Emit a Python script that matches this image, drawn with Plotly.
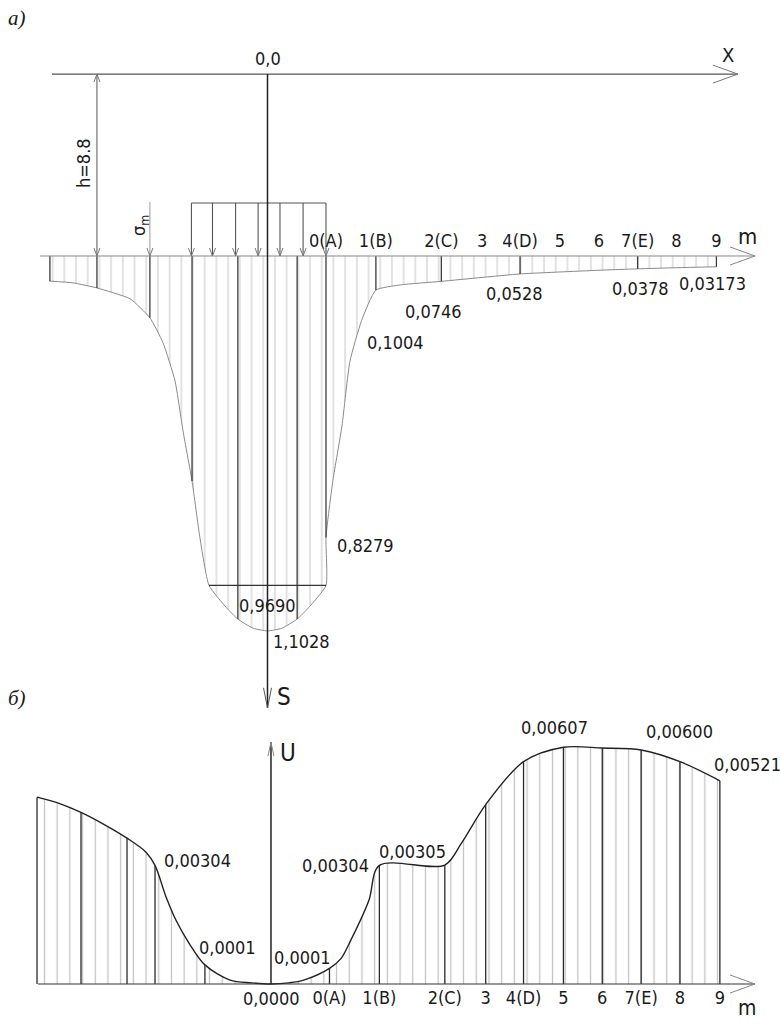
import plotly.graph_objects as go

# ---------------- data ----------------
# observation points along the surface, x in metres from the load axis
STATIONS = ["0(A)", "1(B)", "2(C)", "3", "4(D)", "5", "6", "7(E)", "8", "9"]
STATION_X = [2.86, 5.3, 8.5, 10.5, 12.35, 14.3, 16.2, 18.1, 20.0, 21.95]

# a) settlement diagram S(x)
S_X = [-10.64, -9.51, -8.34, -6.72, -5.75, -5.11, -4.52, -4.13, -3.69, -3.3,
       -2.86, -2.0, -1.45, -0.7, 0.0, 0.7, 1.45, 2.0, 2.86,
       2.86, 3.2, 3.64, 4.03, 4.6, 5.3, 6.5, 8.5, 10.5, 12.35, 14.3, 16.2,
       18.1, 20.0, 21.95]
S_VAL = [0.074, 0.079, 0.094, 0.126, 0.182, 0.255, 0.368, 0.515, 0.662, 0.83,
         0.969, 1.035, 1.068, 1.095, 1.1028, 1.095, 1.068, 1.035, 0.969,
         0.8279, 0.66, 0.50, 0.31, 0.19, 0.1004, 0.085, 0.0746, 0.063, 0.0528,
         0.047, 0.042, 0.0378, 0.0345, 0.03173]
S_PLATEAU = 0.969
S_PLATEAU_X = [-2.86, 2.86]
S_SECTIONS = [-10.64, -8.34, -5.75, -3.69, -1.45, 1.45, 2.86, 5.3, 8.5,
              12.35, 18.1, 21.95]

# uniform load under the foundation (arrow positions)
LOAD_X = [-3.72, -2.69, -1.56, -0.46, 0.61, 1.74, 2.86]
SIGMA_M_X = -5.75
H_DIM_X = -8.34

# b) horizontal displacement diagram U(x)
U_X = [-11.44, -10.3, -9.29, -8.26, -7.04, -6.11, -5.67, -5.13, -4.65, -4.01,
       -3.23, -2.0, -0.93, 0.0, 0.88, 1.6, 2.86, 3.42, 3.91, 4.79, 5.3,
       8.5, 9.3, 10.5, 12.35, 14.3, 16.2, 18.1, 20.0, 21.95]
U_VAL = [0.00479, 0.00462, 0.00440, 0.00412, 0.00374, 0.00338, 0.00304,
         0.00223, 0.00164, 0.00105, 0.00049, 0.0001, 0.00003, 0.0, 0.00003,
         0.0001, 0.00040, 0.00065, 0.00113, 0.00215, 0.00304,
         0.00305, 0.0036, 0.0046, 0.0057, 0.00607, 0.00605, 0.00600, 0.0057,
         0.00521]
U_SECTIONS = [-11.44, -9.29, -7.04, -5.67, -3.23, 2.86, 5.3, 8.5, 10.5, 12.35,
              14.3, 16.2, 18.1, 20.0, 21.95]

# ---------------- layout constants ----------------
W, H = 780, 1026
FONT = "DejaVu Sans Condensed, Liberation Sans Narrow, DejaVu Sans, sans-serif"
SERIF = "Liberation Serif, DejaVu Serif, serif"
X_RANGE_A = [-13.08, 25.06]
S_RANGE = [2.265, -0.753]
X_RANGE_B = [-13.25, 24.89]
U_RANGE = [-0.001077, 0.02523]
X_AXIS_LEVEL = -0.535      # level of the X axis above the ground in S units
LOAD_TOP = -0.156
S_AXIS_END = 1.329
U_AXIS_END = 0.0062
TXT = 18

S_LOOKUP = dict(zip(S_X, S_VAL))
U_LOOKUP = dict(zip(U_X, U_VAL))


def paper(px, py):
    return px / W, 1 - py / H


def fmt(v, d):
    return f"{v:.{d}f}".replace(".", ",")


def vlines(xs, y0s, y1s):
    xx, yy = [], []
    for x, a, b in zip(xs, y0s, y1s):
        xx += [x, x, None]
        yy += [a, b, None]
    return xx, yy


def line(fig, x, y, color, width, xa="x", ya="y"):
    fig.add_trace(go.Scatter(x=x, y=y, mode="lines", xaxis=xa, yaxis=ya,
                             line=dict(color=color, width=width),
                             hoverinfo="skip", showlegend=False))


fig = go.Figure()

# ---- panel a ----
fig.add_trace(go.Scatter(
    x=S_X, y=S_VAL, mode="lines", xaxis="x", yaxis="y",
    line=dict(color="#8a8a8a", width=1, shape="spline", smoothing=0.5),
    fill="tozeroy", fillcolor="white",
    fillpattern=dict(shape="|", size=11.7, solidity=0.1,
                     fgcolor="#9c9c9c", bgcolor="white"),
    hoverinfo="skip", showlegend=False))

sx, sy = vlines(S_SECTIONS, [0] * len(S_SECTIONS), [S_LOOKUP[x] for x in S_SECTIONS])
line(fig, sx, sy, "#3c3c3c", 1.3)
line(fig, S_PLATEAU_X, [S_PLATEAU] * 2, "#333", 1.2)

# load block
lx, ly = vlines(LOAD_X, [LOAD_TOP] * len(LOAD_X), [0] * len(LOAD_X))
line(fig, lx + [LOAD_X[0], LOAD_X[-1]], ly + [LOAD_TOP, LOAD_TOP], "#555", 1.1)
# sigma_m and h dimension
line(fig, [SIGMA_M_X, SIGMA_M_X], [LOAD_TOP - 0.003, 0], "#9a9a9a", 1)
line(fig, [H_DIM_X, H_DIM_X], [X_AXIS_LEVEL, 0], "#555", 1)

# axes of panel a
line(fig, [-10.54, 23.0], [X_AXIS_LEVEL] * 2, "#555", 1.2)
line(fig, [-11.12, 23.84], [0, 0], "#8a8a8a", 1)
line(fig, [0, 0], [X_AXIS_LEVEL, S_AXIS_END], "#222", 1.5)

# ---- panel b ----
fig.add_trace(go.Scatter(
    x=U_X, y=U_VAL, mode="lines", xaxis="x2", yaxis="y2",
    line=dict(color="#222", width=1.4, shape="spline", smoothing=0.9),
    fill="tozeroy", fillcolor="white",
    fillpattern=dict(shape="|", size=12.7, solidity=0.1,
                     fgcolor="#858585", bgcolor="white"),
    hoverinfo="skip", showlegend=False))

ux, uy = vlines(U_SECTIONS, [0] * len(U_SECTIONS), [U_LOOKUP[x] for x in U_SECTIONS])
line(fig, ux, uy, "#2a2a2a", 1.3, "x2", "y2")
line(fig, [-11.39, 23.67], [0, 0], "#333", 1.2, "x2", "y2")
line(fig, [0, 0], [0, U_AXIS_END], "#222", 1.5, "x2", "y2")

# ---- arrow heads (open chevrons, fixed pixel size) ----
shapes = []


def chevron(x, y, path, xref="x", yref="y", color="#555", width=1):
    shapes.append(dict(type="path", xref=xref, yref=yref, xsizemode="pixel",
                       ysizemode="pixel", xanchor=x, yanchor=y, path=path,
                       line=dict(color=color, width=width)))


RIGHT = "M-25,9 L0,0 L-25,-9"
chevron(23.0, X_AXIS_LEVEL, RIGHT, color="#777")
chevron(23.84, 0, RIGHT, color="#888")
chevron(0, S_AXIS_END, "M-4,20 L0,0 L4,20", color="#555")
chevron(23.67, 0, RIGHT, xref="x2", yref="y2", color="#888")
chevron(0, U_AXIS_END, "M-3,-14 L0,0 L3,-14", xref="x2", yref="y2", color="#888")
for x in LOAD_X + [SIGMA_M_X, H_DIM_X]:
    chevron(x, 0, "M-3,8 L0,0 L3,8", color="#777")
chevron(H_DIM_X, X_AXIS_LEVEL, "M-3,-8 L0,0 L3,-8", color="#777")

# ---- text ----
ann = []


def text(px, py, t, size=TXT, family=FONT, angle=0, xanchor="center", color="#1a1a1a"):
    x, y = paper(px, py)
    ann.append(dict(x=x, y=y, xref="paper", yref="paper", text=t, showarrow=False,
                    xanchor=xanchor, yanchor="middle", textangle=angle,
                    font=dict(family=family, size=size, color=color)))


def value_label(x, v, d, xanchor, xs, ys, xref, yref, size=TXT):
    ann.append(dict(x=x, y=v, xref=xref, yref=yref, text=fmt(v, d), showarrow=False,
                    xanchor=xanchor, yanchor="middle", xshift=xs, yshift=ys,
                    font=dict(family=FONT, size=size, color="#1a1a1a")))


text(17, 18, "<i>a)</i>", size=21, family=SERIF)
text(17, 698, "<i>б)</i>", size=21, family=SERIF)
text(268, 59, "0,0")
text(728, 55, "X", size=20)
text(747, 236, "m", size=22)
text(747, 1008, "m", size=21)
text(84, 163, "h=8.8", size=18, angle=-90)
text(140, 226, "σ<sub>m</sub>", size=18, angle=-90)
text(284, 697, "S", size=24)
text(288, 753, "U", size=24)

for x, d, xa, xs, ys in [(2.86, 4, "left", 9, -8), (5.3, 4, "center", 20, -52),
                         (8.5, 4, "center", -8, -30), (12.35, 4, "center", -6, -20),
                         (18.1, 4, "center", 3, -20), (21.95, 5, "center", -4, -17),
                         (0.0, 4, "left", 3, -11)]:
    value_label(x, S_LOOKUP[x], d, xa, xs, ys, "x", "y")
value_label(0.0, S_PLATEAU, 4, "center", 0, -20, "x", "y")

for x, d, xa, xs, ys in [(-5.67, 5, "left", 7, 5), (-2.0, 4, "center", -3, 33),
                         (0.0, 4, "center", 1, -14), (1.6, 4, "center", -1, 23),
                         (5.3, 5, "right", -8, 0), (8.5, 5, "right", 3, 14),
                         (14.3, 5, "center", -9, 20), (18.1, 5, "left", 3, 18),
                         (21.95, 5, "left", -8, 16)]:
    value_label(x, U_LOOKUP[x], d, xa, xs, ys, "x2", "y2")

axis_common = dict(showgrid=False, zeroline=False, showline=False, ticks="",
                   tickvals=STATION_X, ticktext=STATIONS, anchor="free",
                   domain=[0, 1], tickfont=dict(family=FONT, size=TXT, color="#1a1a1a"))

fig.update_layout(
    width=W, height=H, margin=dict(l=0, r=0, t=0, b=0),
    paper_bgcolor="white", plot_bgcolor="rgba(0,0,0,0)",
    showlegend=False,
    xaxis=dict(range=X_RANGE_A, side="top", position=1 - 256 / H,
               ticklabelstandoff=5, **axis_common),
    yaxis=dict(range=S_RANGE, domain=[0, 1], visible=False, anchor="x"),
    xaxis2=dict(range=X_RANGE_B, side="bottom", position=1 - 984 / H,
                ticklabelstandoff=1, **axis_common),
    yaxis2=dict(range=U_RANGE, domain=[0, 1], visible=False, anchor="x2"),
    shapes=shapes, annotations=ann,
)

fig.write_html("out.html")
